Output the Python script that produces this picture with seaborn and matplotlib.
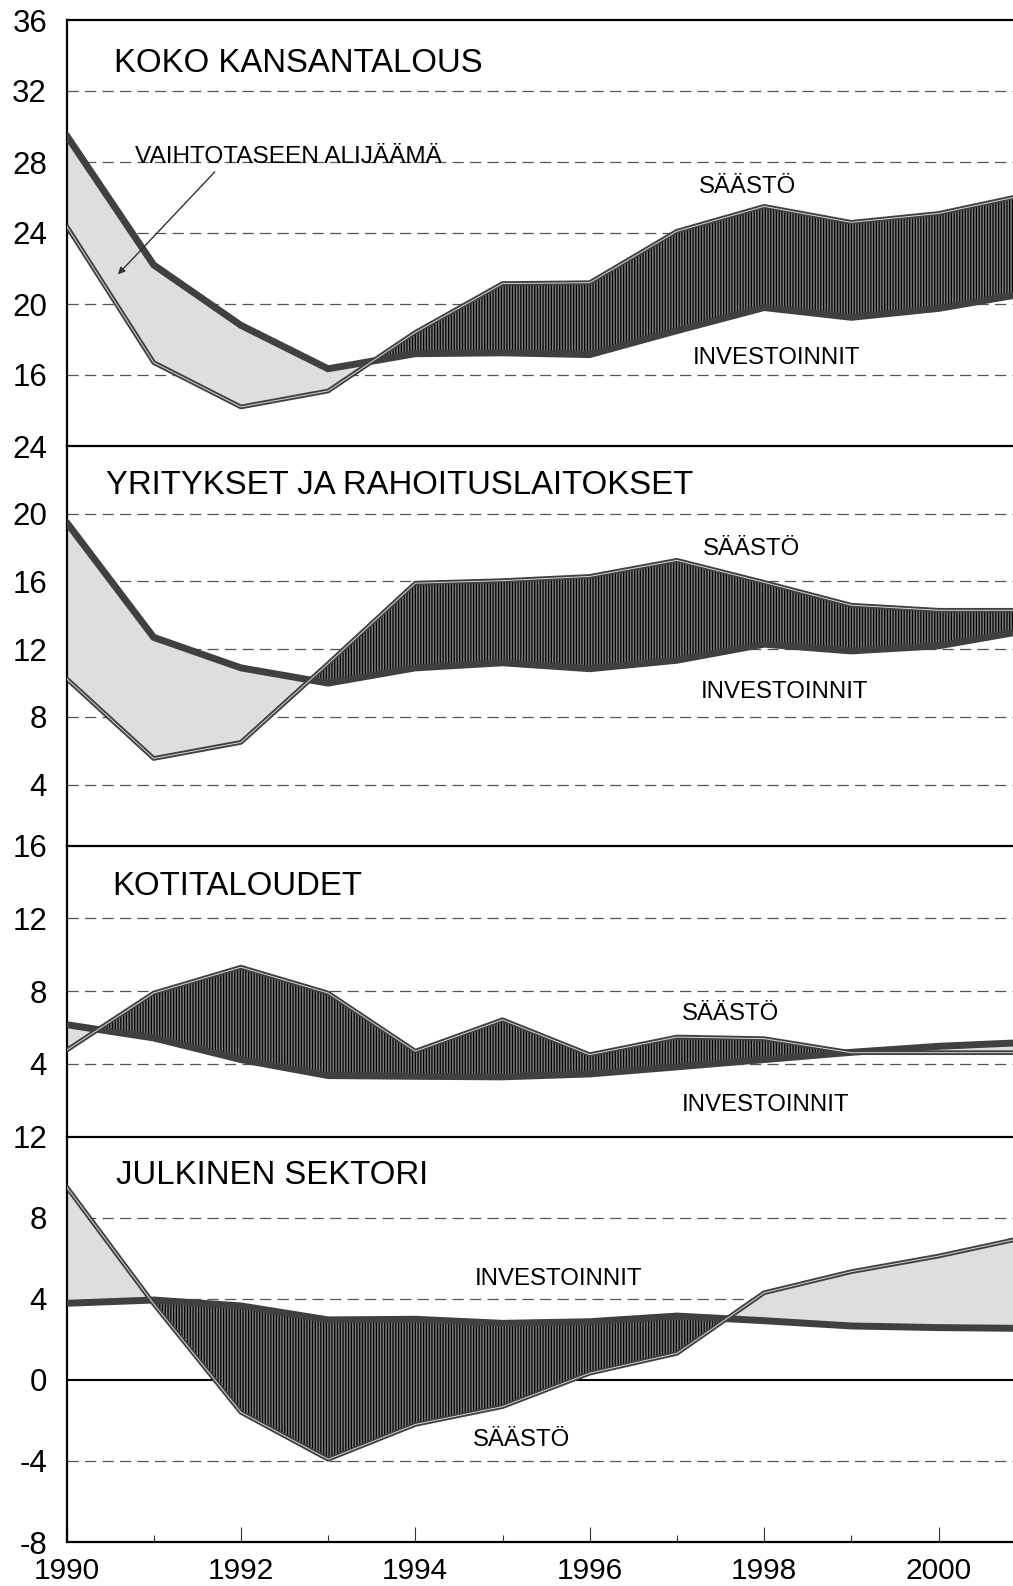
import numpy as np
import pandas as pd
import matplotlib
matplotlib.use("Agg")
import matplotlib.pyplot as plt
import seaborn as sns
from matplotlib import patheffects as pe

# ---- data (% of GDP) ----
years = list(range(1990, 2002))

koko_saasto = [24.4, 16.7, 14.2, 15.1, 18.4, 21.15, 21.2, 24.1, 25.5, 24.6, 25.1, 26.15]
koko_invest = [29.5, 22.2, 18.8, 16.35, 17.2, 17.25, 17.15, 18.5, 19.8, 19.25, 19.75, 20.6]

yrit_saasto = [10.27, 5.55, 6.5, 11.15, 15.9, 16.05, 16.3, 17.25, 15.95, 14.6, 14.3, 14.3]
yrit_invest = [19.5, 12.7, 10.9, 10.0, 10.9, 11.2, 10.85, 11.35, 12.3, 11.9, 12.2, 13.1]

koti_saasto = [4.75, 7.9, 9.32, 7.9, 4.7, 6.43, 4.51, 5.48, 5.39, 4.62, 4.62, 4.62]
koti_invest = [6.16, 5.43, 4.24, 3.36, 3.32, 3.29, 3.45, 3.84, 4.24, 4.64, 4.97, 5.18]

julk_saasto = [9.53, 3.75, -1.6, -3.92, -2.2, -1.32, 0.33, 1.31, 4.3, 5.34, 6.11, 7.04]
julk_invest = [3.78, 3.94, 3.65, 2.96, 2.99, 2.79, 2.87, 3.15, 2.92, 2.66, 2.58, 2.54]

titles = ["KOKO KANSANTALOUS", "YRITYKSET JA RAHOITUSLAITOKSET",
          "KOTITALOUDET", "JULKINEN SEKTORI"]
x_ticks = [1990, 1992, 1994, 1996, 1998, 2000]

# ---- style ----
sns.set_style("white")
plt.rcParams["font.family"] = ["Liberation Sans", "DejaVu Sans"]
plt.rcParams["axes.unicode_minus"] = False
plt.rcParams["hatch.linewidth"] = 0.9

W, H = 1013, 1586
fig = plt.figure(figsize=(W / 100, H / 100), dpi=100)

x0_px = 66.5
px_per_year = 87.2
xmax = 1990 + (W - x0_px) / px_per_year
left = x0_px / W
width = 1 - left


def box(top_px, bottom_px):
    return [left, (H - bottom_px) / H, width, (bottom_px - top_px) / H]


panels = [
    dict(rect=box(20, 446), ylim=(12, 36), ticks=[16, 20, 24, 28, 32, 36],
         grid=[16, 20, 24, 28, 32], s=koko_saasto, i=koko_invest, title=titles[0],
         title_xy=(1990.54, 33.08), dark_above=True,
         labels=[("SÄÄSTÖ", 1997.81, 26.26), ("INVESTOINNIT", 1998.14, 16.64)]),
    dict(rect=box(446, 845.7), ylim=(0.4, 24), ticks=[4, 8, 12, 16, 20, 24],
         grid=[4, 8, 12, 16, 20], s=yrit_saasto, i=yrit_invest, title=titles[1],
         title_xy=(1990.45, 21.17), dark_above=True,
         labels=[("SÄÄSTÖ", 1997.85, 17.54), ("INVESTOINNIT", 1998.23, 9.13)]),
    dict(rect=box(845.7, 1136.7), ylim=(0, 16), ticks=[4, 8, 12, 16],
         grid=[4, 8, 12], s=koti_saasto, i=koti_invest, title=titles[2],
         title_xy=(1990.53, 13.29), dark_above=True,
         labels=[("SÄÄSTÖ", 1997.61, 6.43), ("INVESTOINNIT", 1998.02, 1.40)]),
    dict(rect=box(1136.7, 1542), ylim=(-8, 12), ticks=[-8, -4, 0, 4, 8, 12],
         grid=[-4, 4, 8], s=julk_saasto, i=julk_invest, title=titles[3],
         title_xy=(1990.57, 9.67), dark_above=False,
         labels=[("INVESTOINNIT", 1995.64, 4.68), ("SÄÄSTÖ", 1995.22, -3.26)]),
]

line_dark = "#404040"
dark_fill = dict(facecolor="#7a7a7a", edgecolor="black", hatch="||||||", linewidth=0)
light_fill = dict(facecolor="#dedede", linewidth=0)

axes = []
for k, p in enumerate(panels):
    ax = fig.add_axes(p["rect"])
    axes.append(ax)
    s = np.array(p["s"], dtype=float)
    inv = np.array(p["i"], dtype=float)
    df = pd.DataFrame({"vuosi": years, "saasto": s, "invest": inv})

    for g in p["grid"]:
        ax.axhline(g, color="#555555", lw=0.9, dashes=(9, 5), zorder=0.5)
    if k == 3:
        ax.axhline(0, color="black", lw=1.5, zorder=0.6)

    above = s >= inv
    style_above = dark_fill if p["dark_above"] else light_fill
    style_below = light_fill if p["dark_above"] else dark_fill
    ax.fill_between(years, s, inv, where=above, interpolate=True, zorder=1,
                    **style_above)
    ax.fill_between(years, s, inv, where=~above, interpolate=True, zorder=1,
                    **style_below)

    sns.lineplot(data=df, x="vuosi", y="invest", ax=ax, color=line_dark,
                 linewidth=5.0, sort=False, estimator=None, zorder=3,
                 solid_joinstyle="miter")
    sns.lineplot(data=df, x="vuosi", y="saasto", ax=ax, color="#d6d6d6",
                 linewidth=0.7, sort=False, estimator=None, zorder=4,
                 path_effects=[pe.Stroke(linewidth=3.4, foreground=line_dark),
                               pe.Normal()])

    ax.set_xlim(1990, xmax)
    ax.set_ylim(*p["ylim"])
    ax.set_xlabel("")
    ax.set_ylabel("")
    ax.set_yticks(p["ticks"])
    ax.set_yticklabels([str(t) for t in p["ticks"]])
    ax.tick_params(axis="y", length=0, pad=14, labelsize=22.5, labelcolor="black")

    for side in ["top", "left", "bottom"]:
        ax.spines[side].set_color("black")
        ax.spines[side].set_linewidth(1.6)
    ax.spines["right"].set_visible(False)

    if k < 3:
        ax.set_xticks([])
        ax.spines["bottom"].set_visible(False)
    else:
        ax.set_xticks(x_ticks)
        ax.set_xticklabels([str(t) for t in x_ticks])
        ax.set_xticks([1991, 1993, 1995, 1997, 1999], minor=True)
        ax.tick_params(axis="x", which="major", direction="in", length=11,
                       width=0.8, color="#333333", pad=11, labelsize=21.5,
                       labelcolor="black", bottom=True)
        ax.tick_params(axis="x", which="minor", direction="in", length=5,
                       width=0.8, color="#333333", bottom=True)

    tx, ty = p["title_xy"]
    ax.text(tx, ty, p["title"], fontsize=23.7, ha="left", va="baseline",
            color="black", zorder=5)
    for txt, lx, ly in p["labels"]:
        ax.text(lx, ly, txt, fontsize=17.3, ha="center", va="baseline",
                color="black", zorder=5)

# current account deficit pointer
axes[0].text(1990.79, 27.95, "VAIHTOTASEEN ALIJÄÄMÄ", fontsize=17.6, ha="left",
             va="baseline", color="black", zorder=5)
axes[0].annotate("", xy=(1990.59, 21.67), xytext=(1991.70, 27.44),
                 arrowprops=dict(arrowstyle="-|>", color="#333333", lw=1.0,
                                 mutation_scale=10, shrinkA=0, shrinkB=0),
                 zorder=5)

fig.savefig("out.png", dpi=100)
